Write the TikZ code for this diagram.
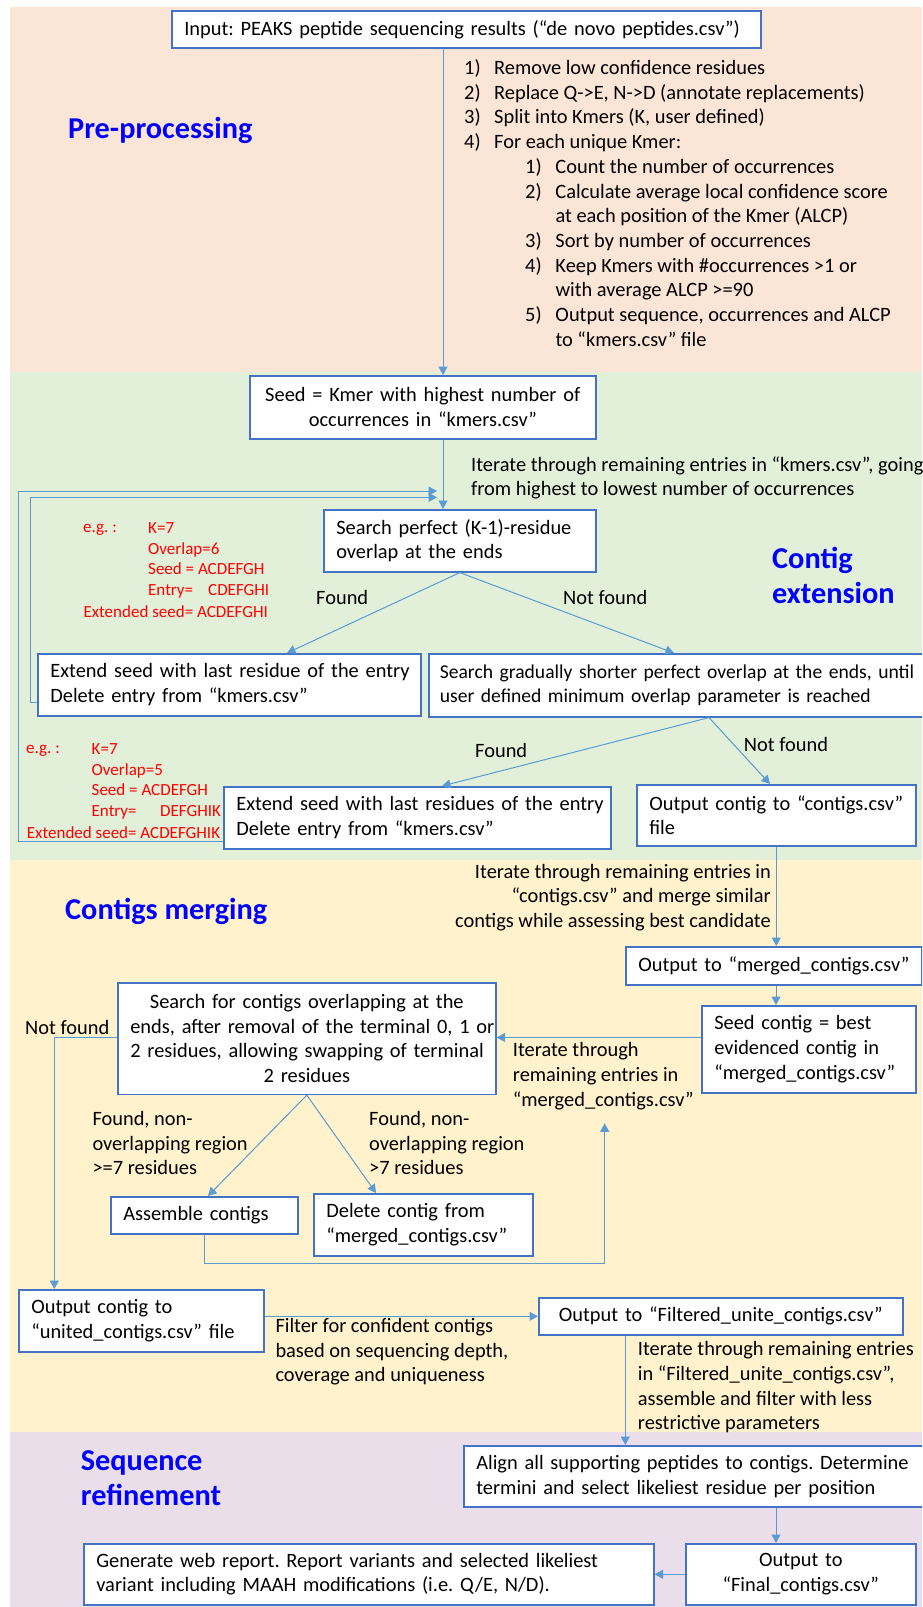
\documentclass[tikz,border=0pt]{standalone}
\usepackage{fontspec}
\setmainfont{Carlito}
\frenchspacing
\usetikzlibrary{arrows.meta,calc}
\definecolor{peach}{HTML}{FBE5D6}
\definecolor{pgreen}{HTML}{E2F0D9}
\definecolor{pyellow}{HTML}{FFF2CC}
\definecolor{ppurple}{HTML}{E9DEEA}
\definecolor{boxblue}{HTML}{4472C4}
\definecolor{arrblue}{HTML}{5B9BD5}
\definecolor{lblue}{HTML}{0000FF}
\definecolor{exred}{HTML}{FF0000}
\newcommand\bodyf{\fontsize{20.4}{24.7}\selectfont\frenchspacing}
\newcommand\narrowf{\fontsize{19.6}{24.7}\selectfont\frenchspacing}
\newcommand\redf{\fontsize{17}{20.5}\selectfont\frenchspacing}
\newcommand\bluef{\fontsize{30.3}{35.4}\selectfont\bfseries}
\tikzset{
  box/.style={draw=boxblue, line width=1.6pt, fill=white, inner ysep=0pt, inner xsep=12.5pt, font=\bodyf, anchor=north west},
  lbox/.style={box, align=left},
  cbox/.style={box, align=center},
  txt/.style={inner sep=0pt, font=\bodyf},
  redt/.style={inner sep=0pt, font=\redf, text=exred},
  phase/.style={inner sep=0pt, font=\bluef, text=lblue, align=left, anchor=west},
  arr/.style={draw=arrblue, line width=1pt, -{Triangle[length=8.5pt,width=9pt]}}
}
\begin{document}
\begin{tikzpicture}[x=1pt,y=-1pt]
\useasboundingbox (0,0) rectangle (922,1607);
\clip (0,0) rectangle (922,1607);
% panels
\fill[peach] (10,7) rectangle (922,372);
\fill[pgreen] (10,372) rectangle (922,860);
\fill[pyellow] (10,860) rectangle (922,1432);
\fill[ppurple] (10,1432) rectangle (922,1607);
% phase labels
\node[phase] (lpre) at (68,130) {Pre-processing};
\node[phase] (lext) at (772,575.7) {Contig\\extension};
\node[phase] (lmerge) at (65,911) {Contigs merging};
\node[phase] (lref) at (80.7,1478.4) {Sequence\\refinement};
% boxes
\node[lbox, minimum width=589pt, minimum height=37pt, text width=564pt] (input) at (171,10) {\mbox{Input: PEAKS peptide sequencing results (“de novo peptides.csv”)}};
\node[cbox, minimum width=346pt, minimum height=63pt, text width=321pt] (seed) at (249,375) {\mbox{Seed = Kmer with highest number of}\\\mbox{occurrences in “kmers.csv”}};
\node[lbox, minimum width=272pt, minimum height=62pt, text width=247pt] (search1) at (323,509) {\mbox{Search perfect (K-1)-residue}\\\mbox{overlap at the ends}};
\node[lbox, minimum width=383pt, minimum height=62pt, text width=358pt] (extend1) at (37,653) {\mbox{Extend seed with last residue of the entry}\\\mbox{Delete entry from “kmers.csv”}};
\node[lbox, minimum width=512pt, minimum height=63pt, text width=490pt, inner xsep=11pt, font=\narrowf] (search2) at (428,653) {\mbox{Search gradually shorter perfect overlap at the ends, until}\\\mbox{user defined minimum overlap parameter is reached}};
\node[lbox, minimum width=387pt, minimum height=62pt, text width=362pt] (extend2) at (223,786) {\mbox{Extend seed with last residues of the entry}\\\mbox{Delete entry from “kmers.csv”}};
\node[lbox, minimum width=279pt, minimum height=61pt, text width=254pt] (outcontig) at (636,784) {\mbox{Output contig to “contigs.csv”}\\\mbox{file}};
\node[cbox, minimum width=296pt, minimum height=38pt, text width=271pt] (merged) at (625,946) {\mbox{Output to “merged\_contigs.csv”}};
\node[lbox, minimum width=214pt, minimum height=87pt, text width=189pt] (seedcontig) at (701,1005) {\mbox{Seed contig = best}\\\mbox{evidenced contig in}\\\mbox{“merged\_contigs.csv”}};
\node[cbox, minimum width=378pt, minimum height=111.5pt, text width=353pt] (search3) at (117,982) {\mbox{Search for contigs overlapping at the}\\\mbox{ends, after removal of the terminal 0, 1 or}\\\mbox{2 residues, allowing swapping of terminal}\\\mbox{2 residues}};
\node[lbox, minimum width=187pt, minimum height=37pt, text width=162pt] (assemble) at (110,1196) {\mbox{Assemble contigs}};
\node[lbox, minimum width=219pt, minimum height=62pt, text width=194pt] (delete) at (313,1193) {\mbox{Delete contig from}\\\mbox{“merged\_contigs.csv”}};
\node[lbox, minimum width=245pt, minimum height=62pt, text width=220pt] (united) at (18,1289) {\mbox{Output contig to}\\\mbox{“united\_contigs.csv” file}};
\node[cbox, minimum width=364pt, minimum height=37pt, text width=339pt] (filtered) at (538,1297) {\mbox{Output to “Filtered\_unite\_contigs.csv”}};
\node[lbox, minimum width=477pt, minimum height=61pt, text width=452pt] (align) at (463,1445) {\mbox{Align all supporting peptides to contigs. Determine}\\\mbox{termini and select likeliest residue per position}};
\node[cbox, minimum width=230pt, minimum height=61pt, text width=205pt] (final) at (685,1543) {\mbox{Output to}\\\mbox{“Final\_contigs.csv”}};
\node[lbox, minimum width=570pt, minimum height=61pt, text width=545pt] (generate) at (83,1543) {\mbox{Generate web report. Report variants and selected likeliest}\\\mbox{variant including MAAH modifications (i.e. Q/E, N/D).}};
% free texts
\node[txt, anchor=west, align=left] (steps) at (464,203) {\makebox[30pt][l]{1)}Remove low confidence residues\\
\makebox[30pt][l]{2)}Replace Q->E, N->D (annotate replacements)\\
\makebox[30pt][l]{3)}Split into Kmers (K, user defined)\\
\makebox[30pt][l]{4)}For each unique Kmer:\\
\hspace*{61pt}\makebox[30.3pt][l]{1)}Count the number of occurrences\\
\hspace*{61pt}\makebox[30.3pt][l]{2)}Calculate average local confidence score\\
\hspace*{91.3pt}at each position of the Kmer (ALCP)\\
\hspace*{61pt}\makebox[30.3pt][l]{3)}Sort by number of occurrences\\
\hspace*{61pt}\makebox[30.3pt][l]{4)}Keep Kmers with \#occurrences >1 or\\
\hspace*{91.3pt}with average ALCP >=90\\
\hspace*{61pt}\makebox[30.3pt][l]{5)}Output sequence, occurrences and ALCP\\
\hspace*{91.3pt}to “kmers.csv” file};
\node[txt, anchor=west, align=left] (itk) at (471,478) {Iterate through remaining entries in “kmers.csv”, going\\from highest to lowest number of occurrences};
\node[redt, anchor=west] (eg1) at (83,530) {e.g. :};
\node[redt, anchor=west, align=left] (ex1) at (148,560.5) {K=7\\Overlap=6\\Seed = ACDEFGH\\\makebox[60pt][l]{Entry=}CDEFGHI};
\node[redt, anchor=west] (ext1) at (83.3,612) {Extended seed= ACDEFGHI};
\node[redt, anchor=west] (eg2) at (26,750.7) {e.g. :};
\node[redt, anchor=west, align=left] (ex2) at (91.5,781.2) {K=7\\Overlap=5\\Seed = ACDEFGH\\\makebox[68.5pt][l]{Entry=}DEFGHIK};
\node[redt, anchor=west] (ext2) at (26.7,832.4) {Extended seed= ACDEFGHIK};
\node[txt, anchor=west] (f1) at (316,597.5) {Found};
\node[txt, anchor=west] (nf1) at (563,597) {Not found};
\node[txt, anchor=west] (f2) at (475,750.7) {Found};
\node[txt, anchor=west] (nf2) at (743.7,744.5) {Not found};
\node[txt, anchor=east, align=right] (itc) at (771,897.4) {Iterate through remaining entries in\\“contigs.csv” and merge similar\\contigs while assessing best candidate};
\node[txt, anchor=west, align=left] (itm) at (512.7,1076) {Iterate through\\remaining entries in\\“merged\_contigs.csv”};
\node[txt, anchor=west] (nf3) at (25,1027.3) {Not found};
\node[txt, anchor=west, align=left] (fl3) at (92.3,1143) {Found, non-\\overlapping region\\>=7 residues};
\node[txt, anchor=west, align=left] (fr3) at (369,1143) {Found, non-\\overlapping region\\>7 residues};
\node[txt, anchor=west, align=left] (flt) at (275.3,1351.7) {Filter for confident contigs\\based on sequencing depth,\\coverage and uniqueness};
\node[txt, anchor=west, align=left] (itf) at (637.7,1387.3) {Iterate through remaining entries\\in “Filtered\_unite\_contigs.csv”,\\assemble and filter with less\\restrictive parameters};
% helper coordinates
\coordinate (c1) at (443,0);
\coordinate (c2) at (776,0);
\coordinate (lo) at (437,491);
\coordinate (lox) at (18,0);
\coordinate (loy) at (0,841);
\coordinate (li) at (437,497.4);
\coordinate (lix) at (30,0);
\coordinate (liy) at (0,702);
\coordinate (fx1) at (287,0);
\coordinate (nx1) at (674,0);
\coordinate (ax2) at (709,0);
\coordinate (fx2) at (442,0);
\coordinate (nx2) at (770,0);
\coordinate (yc) at (0,1037.5);
\coordinate (nfx) at (54.3,0);
\coordinate (fl) at (208,0);
\coordinate (fr) at (376,0);
\coordinate (lc) at (604.7,1123.3);
\coordinate (lcb) at (604.7,1263.5);
\coordinate (fx) at (625.3,0);
% connectors
\draw[arr] (input.south -| c1) -- (seed.north -| c1);
\draw[arr] (seed.south -| c1) -- (search1.north -| c1);
\draw[arr] (extend2.west |- loy) -| (lox |- lo) -- (lo);
\draw[arr] (extend1.west |- liy) -| (lix |- li) -- (li);
\draw[arr] (search1.south) -- (extend1.north -| fx1);
\draw[arr] (search1.south) -- (search2.north -| nx1);
\draw[arr] (search2.south -| ax2) -- (extend2.north -| fx2);
\draw[arr] (search2.south -| ax2) -- (outcontig.north -| nx2);
\draw[arr] (outcontig.south) -- (merged.north -| outcontig.south);
\draw[arr] (merged.south -| c2) -- (seedcontig.north -| c2);
\draw[arr] (seedcontig.west |- yc) -- (search3.east |- yc);
\draw[arr] (search3.west |- yc) -| (united.north -| nfx);
\draw[arr] (search3.south) -- (assemble.north -| fl);
\draw[arr] (search3.south) -- (delete.north -| fr);
\draw[arr] (assemble.south) |- (lcb) -- (lc);
\draw[arr] (united.east |- filtered.west) -- (filtered.west);
\draw[arr] (filtered.south -| fx) -- (align.north -| fx);
\draw[arr] (align.south -| c2) -- (final.north -| c2);
\draw[arr] (final.west) -- (generate.east);
\end{tikzpicture}
\end{document}
